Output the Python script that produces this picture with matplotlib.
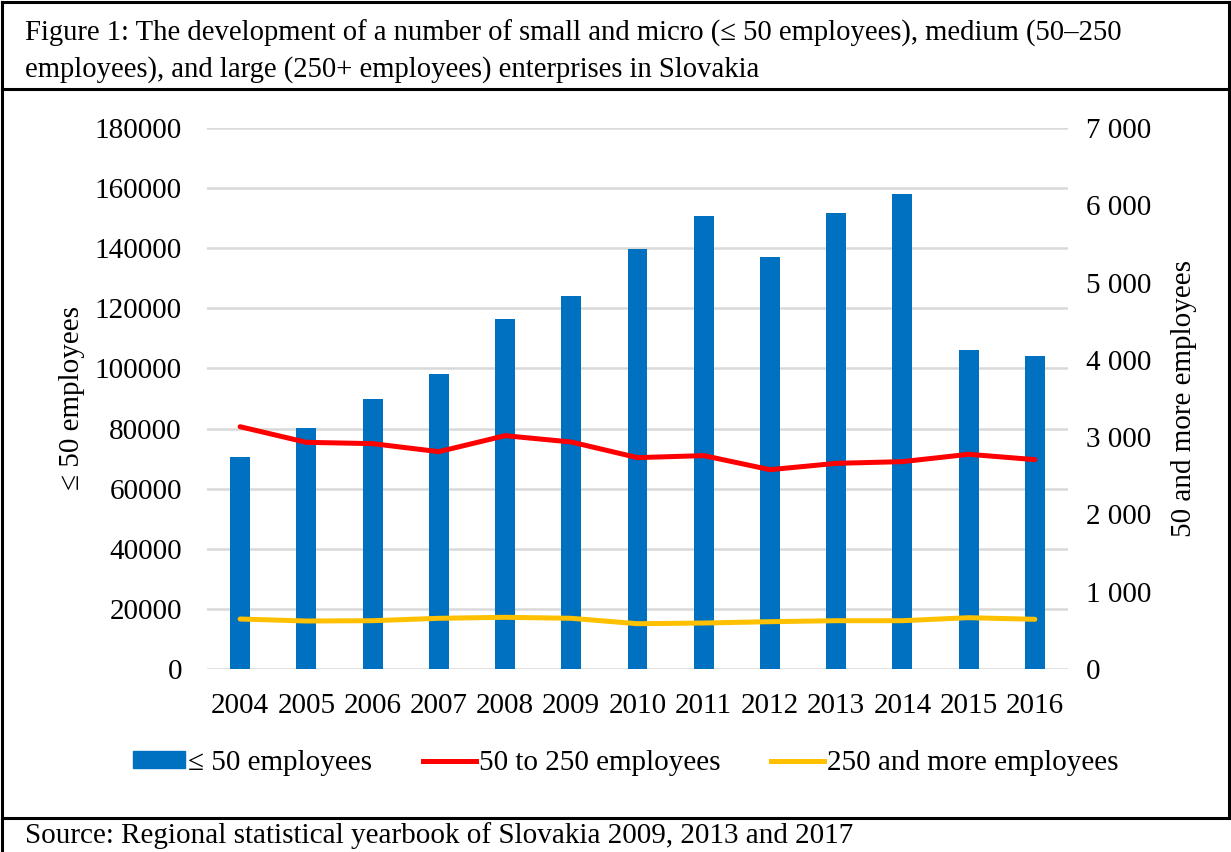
import matplotlib
matplotlib.use('Agg')
import matplotlib.pyplot as plt
from matplotlib.lines import Line2D
from matplotlib.patches import Patch
from matplotlib.ticker import FuncFormatter
import numpy as np

plt.rcParams['font.family'] = ['Liberation Serif', 'DejaVu Serif']

years = ['2004', '2005', '2006', '2007', '2008', '2009', '2010',
         '2011', '2012', '2013', '2014', '2015', '2016']
small_micro = [70500, 80200, 89800, 98200, 116300, 124000, 139800,
               150700, 137000, 151700, 158000, 106100, 104200]
medium = [3135, 2933, 2916, 2812, 3019, 2937, 2735,
          2761, 2579, 2661, 2683, 2778, 2709]
large = [647, 621, 625, 656, 669, 656, 586,
         595, 612, 625, 625, 664, 643]

blue = '#0070C0'
red = '#FF0000'
yellow = '#FFC000'
grid = '#D9D9D9'

W, H = 1231, 852
fig = plt.figure(figsize=(W / 100, H / 100), dpi=100)

ax = fig.add_axes([207 / W, 1 - 669 / H, (1068 - 207) / W, (669 - 128) / H])
x = np.arange(len(years))
ax.bar(x, small_micro, width=0.3, color=blue, zorder=2)
ax.set_xlim(-0.5, len(years) - 0.5)
ax.set_ylim(0, 180000)
ax.set_yticks(np.arange(0, 180001, 20000))
ax.set_xticks(x)
ax.set_xticklabels(years)
ax.yaxis.grid(True, color=grid, linewidth=1.8)
ax.set_axisbelow(True)
for s in ax.spines.values():
    s.set_visible(False)
ax.tick_params(length=0, labelsize=21, pad=18)
ax.tick_params(axis='x', pad=17)
ax.set_ylabel('≤ 50 employees', fontsize=21, labelpad=7)

ax2 = ax.twinx()
ax2.plot(x, medium, color=red, linewidth=3.6, solid_capstyle='round')
ax2.plot(x, large, color=yellow, linewidth=3.6, solid_capstyle='round')
ax2.set_ylim(0, 7000)
ax2.set_yticks(np.arange(0, 7001, 1000))
ax2.yaxis.set_major_formatter(FuncFormatter(lambda v, p: f'{int(v):,}'.replace(',', ' ')))
for s in ax2.spines.values():
    s.set_visible(False)
ax2.tick_params(length=0, labelsize=21, pad=13)
ax2.set_ylabel('50 and more employees', fontsize=21, labelpad=14)

handles = [Patch(color=blue), Line2D([], [], color=red, linewidth=3.6),
           Line2D([], [], color=yellow, linewidth=3.6)]
labels = ['≤ 50 employees', '50 to 250 employees', '250 and more employees']
fig.legend(handles, labels, loc='center', bbox_to_anchor=(0.508, 1 - 763 / H),
           ncol=3, frameon=False, fontsize=21, handlelength=1.8,
           handleheight=0.5, handletextpad=0.1, columnspacing=1.75)

# frame around the figure
lw = 2.2
for (x0, y0, x1, y1) in [(2, 2, 1229, 2), (2, 2, 2, H), (1229, 2, 1229, 818),
                         (2, 89, 1229, 89), (2, 818, 1229, 818)]:
    fig.add_artist(Line2D([x0 / W, x1 / W], [1 - y0 / H, 1 - y1 / H],
                          color='black', linewidth=lw))

fig.text(25 / W, 1 - 51 / H,
         'Figure 1: The development of a number of small and micro (≤ 50 employees), medium (50–250\n'
         'employees), and large (250+ employees) enterprises in Slovakia',
         fontsize=20.6, va='center', ha='left', linespacing=1.45)
fig.text(25 / W, 1 - 836 / H,
         'Source: Regional statistical yearbook of Slovakia 2009, 2013 and 2017',
         fontsize=21, va='center', ha='left')

fig.savefig('out.png', dpi=100)
